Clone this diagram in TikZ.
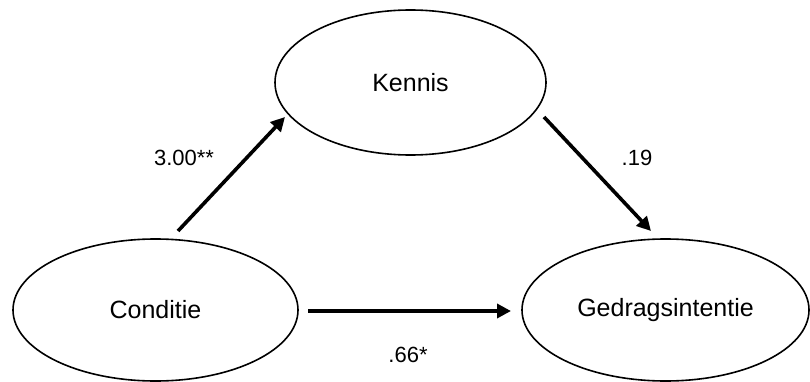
\documentclass[tikz,border=0pt]{standalone}
\usepackage{fontspec}
\setmainfont{Liberation Sans}
\usetikzlibrary{shapes.geometric,arrows.meta}

\tikzset{
  var/.style={draw=black, line width=1.6pt, ellipse, inner sep=0pt,
    font=\fontsize{25}{30}\selectfont},
  path/.style={line width=3.6pt, -{Triangle[length=14pt,width=14pt]}},
  coef/.style={font=\fontsize{22}{26}\selectfont, inner sep=0pt}
}

\begin{document}
\begin{tikzpicture}[x=1pt, y=-1pt]
  \useasboundingbox (0,0) rectangle (810,382);

  % latent variables
  \node[var, minimum width=271pt, minimum height=145pt] (kennis) at (410.5,82.5) {Kennis};
  \node[var, minimum width=285pt, minimum height=142pt] (conditie) at (155.5,310) {Conditie};
  \node[var, minimum width=287pt, minimum height=142pt] (gedrag) at (665.5,310) {Gedragsintentie};

  % arrow end points, kept clear of the ellipse outlines
  \coordinate (ck1) at (178,231);
  \coordinate (ck2) at (285,117);
  \coordinate (kg1) at (544,117);
  \coordinate (kg2) at (651,231);
  \coordinate (cg1) at (308,311);
  \coordinate (cg2) at (511,311);

  % paths
  \draw[path] (ck1) -- (ck2);
  \draw[path] (kg1) -- (kg2);
  \draw[path] (cg1) -- (cg2);

  % coefficients
  \node[coef] (lck) at (184,158) {3.00**};
  \node[coef] (lkg) at (637,158) {.19};
  \node[coef] (lcg) at (408,355) {.66*};
\end{tikzpicture}
\end{document}
